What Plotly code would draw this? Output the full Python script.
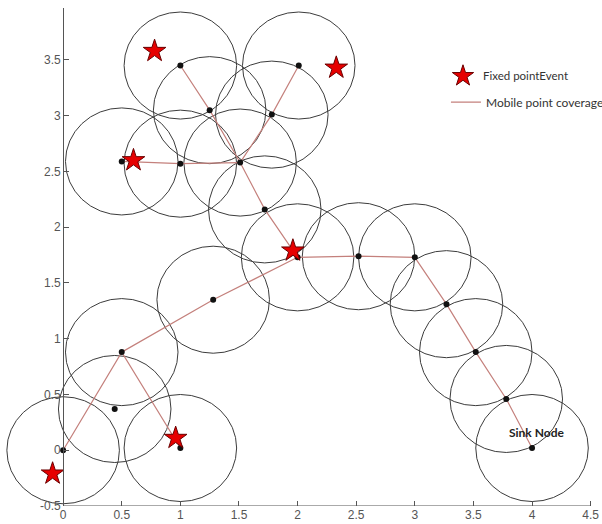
import plotly.graph_objects as go

# ---- data ----
node_x = [0.0, 0.44, 0.50, 1.00, 1.28, 2.00, 2.52, 3.00, 3.27, 3.52, 3.78, 4.00,
          1.72, 1.51, 1.00, 0.50, 1.25, 1.00, 1.78, 2.01]
node_y = [0.00, 0.37, 0.88, 0.02, 1.35, 1.73, 1.74, 1.73, 1.31, 0.88, 0.46, 0.02,
          2.16, 2.58, 2.57, 2.59, 3.05, 3.45, 3.01, 3.45]

# mobile point coverage paths (indices into node arrays)
paths = [
    [0, 2, 3],
    [2, 4, 5, 6, 7, 8, 9, 10, 11],
    [5, 12, 13, 16, 17],
    [13, 18, 19],
    [13, 14, 15],
]

event_x = [-0.09, 0.96, 1.96, 0.60, 0.78, 2.33]
event_y = [-0.21, 0.11, 1.79, 2.60, 3.58, 3.43]

coverage_radius = 0.48

x_ticks = [0, 0.5, 1, 1.5, 2, 2.5, 3, 3.5, 4, 4.5]
x_tick_labels = ["0", "0.5", "1", "1.5", "2", "2.5", "3", "3.5", "4", "4.5"]
y_ticks = [-0.5, 0, 0.5, 1, 1.5, 2, 2.5, 3, 3.5]
y_tick_labels = ["-0.5", "0", "0.5", "1", "1.5", "2", "2.5", "3", "3.5"]

sink_label = "Sink Node"
sink_index = 11

legend_event = "Fixed pointEvent"
legend_mobile = "Mobile point coverage"

# ---- axes extents ----
X_MIN, X_MAX = -0.53, 4.52
Y_MIN, Y_MAX = -0.5, 3.966

fig = go.Figure()

# coverage circles
shapes = []
for cx, cy in zip(node_x, node_y):
    shapes.append(dict(type="circle", xref="x", yref="y",
                       x0=cx - coverage_radius, x1=cx + coverage_radius,
                       y0=cy - coverage_radius, y1=cy + coverage_radius,
                       line=dict(color="#3c3c3c", width=1), layer="below"))

# x axis line starting at x=0
shapes.append(dict(type="line", xref="x", yref="y", x0=0, x1=x_ticks[-1],
                   y0=Y_MIN, y1=Y_MIN, line=dict(color="#555555", width=1)))

# mobile point coverage lines
lx, ly = [], []
for p in paths:
    for i in p:
        lx.append(node_x[i])
        ly.append(node_y[i])
    lx.append(None)
    ly.append(None)

fig.add_trace(go.Scatter(x=lx, y=ly, mode="lines", name=legend_mobile,
                         line=dict(color="#c4807c", width=1.2),
                         legend="legend2", hoverinfo="skip"))

fig.add_trace(go.Scatter(x=node_x, y=node_y, mode="markers",
                         marker=dict(color="#111111", size=6),
                         showlegend=False, hoverinfo="skip"))

fig.add_trace(go.Scatter(x=event_x, y=event_y, mode="markers", name=legend_event,
                         marker=dict(symbol="star", size=17, color="#e60000",
                                     line=dict(color="#6a0000", width=1)),
                         legend="legend", hoverinfo="skip"))

fig.add_annotation(x=node_x[sink_index] + 0.04, y=node_y[sink_index] + 0.14,
                   text="<b>" + sink_label + "</b>", showarrow=False,
                   font=dict(family="Lato", size=12, color="#222222"))

ypos = (0 - X_MIN) / (X_MAX - X_MIN)

fig.update_layout(
    width=602, height=524,
    margin=dict(l=1, r=9, t=8, b=18, autoexpand=False),
    paper_bgcolor="white", plot_bgcolor="white",
    shapes=shapes,
    xaxis=dict(range=[X_MIN, X_MAX], tickvals=x_ticks, ticktext=x_tick_labels,
               ticks="inside", ticklen=5, tickcolor="#555555",
               showgrid=False, zeroline=False, showline=False,
               tickfont=dict(family="Liberation Sans", size=12, color="#555555")),
    yaxis=dict(range=[Y_MIN, Y_MAX], tickvals=y_ticks, ticktext=y_tick_labels,
               anchor="free", position=ypos,
               ticks="inside", ticklen=5, tickcolor="#555555",
               showline=True, linecolor="#555555", linewidth=1,
               showgrid=False, zeroline=False,
               tickfont=dict(family="Liberation Sans", size=12, color="#555555")),
    legend=dict(x=0.7466, y=0.8635, xanchor="left", yanchor="middle",
                bgcolor="rgba(0,0,0,0)",
                font=dict(family="Lato", size=11.5, color="#333333")),
    legend2=dict(x=0.7516, y=0.811, xanchor="left", yanchor="middle",
                 bgcolor="rgba(0,0,0,0)",
                 font=dict(family="Lato", size=12, color="#333333")),
)

fig.write_html("out.html", config={"displayModeBar": False},
               post_script="document.body.style.margin='0';")
